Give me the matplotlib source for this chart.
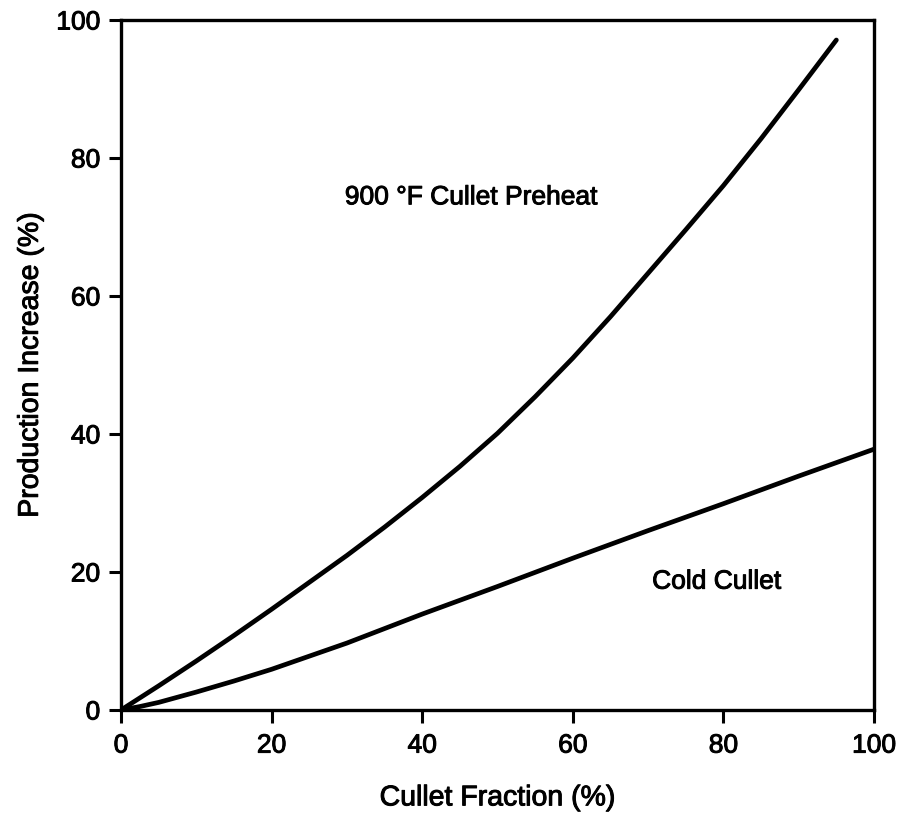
import matplotlib
matplotlib.use("Agg")
import matplotlib.pyplot as plt
import matplotlib.patheffects as pe

# Data
preheat_x = [0, 5, 10, 15, 20, 25, 30, 35, 40, 45, 50, 55, 60, 65, 70, 75, 80, 85, 90, 95]
preheat_y = [0, 3.5, 7.1, 10.8, 14.6, 18.5, 22.4, 26.5, 30.8, 35.3, 40.1, 45.4, 51.0, 57.0, 63.3, 69.6, 76.0, 82.8, 89.9, 97.1]

cold_x = [0, 2.5, 5, 10, 15, 20, 30, 40, 50, 60, 70, 80, 90, 100]
cold_y = [0, 0.5, 1.1, 2.6, 4.2, 5.9, 9.7, 13.9, 17.9, 22.0, 26.0, 29.9, 33.9, 37.8]

x_ticks = [0, 20, 40, 60, 80, 100]
y_ticks = [0, 20, 40, 60, 80, 100]

plt.rcParams['font.family'] = ['Liberation Sans', 'DejaVu Sans']
thick = [pe.withStroke(linewidth=0.7, foreground='black')]

fig = plt.figure(figsize=(8.98, 8.16), dpi=100)
ax = fig.add_axes([121/898, 106/816, 753/898, 690/816])

ax.plot(preheat_x, preheat_y, color='black', lw=3.4, solid_capstyle='round')
ax.plot(cold_x, cold_y, color='black', lw=3.4, solid_capstyle='round')

ax.set_xlim(0, 100)
ax.set_ylim(0, 100)
ax.set_xticks(x_ticks)
ax.set_yticks(y_ticks)
ax.tick_params(direction='out', length=9, width=2.2, labelsize=19, colors='black')
ax.tick_params(axis='x', pad=8)
ax.tick_params(axis='y', pad=6)
for lab in ax.get_xticklabels() + ax.get_yticklabels():
    lab.set_path_effects(thick)
for s in ax.spines.values():
    s.set_linewidth(2.4)

ax.set_xlabel('Cullet Fraction (%)', fontsize=20.5, labelpad=20, path_effects=thick)
ax.set_ylabel('Production Increase (%)', fontsize=20.5, labelpad=9, path_effects=thick)

ax.text(46.5, 74.3, '900 °F Cullet Preheat', fontsize=19, ha='center', va='center',
        path_effects=thick)
ax.text(79.1, 18.6, 'Cold Cullet', fontsize=19, ha='center', va='center',
        path_effects=thick)

fig.savefig('out.png', dpi=100)
